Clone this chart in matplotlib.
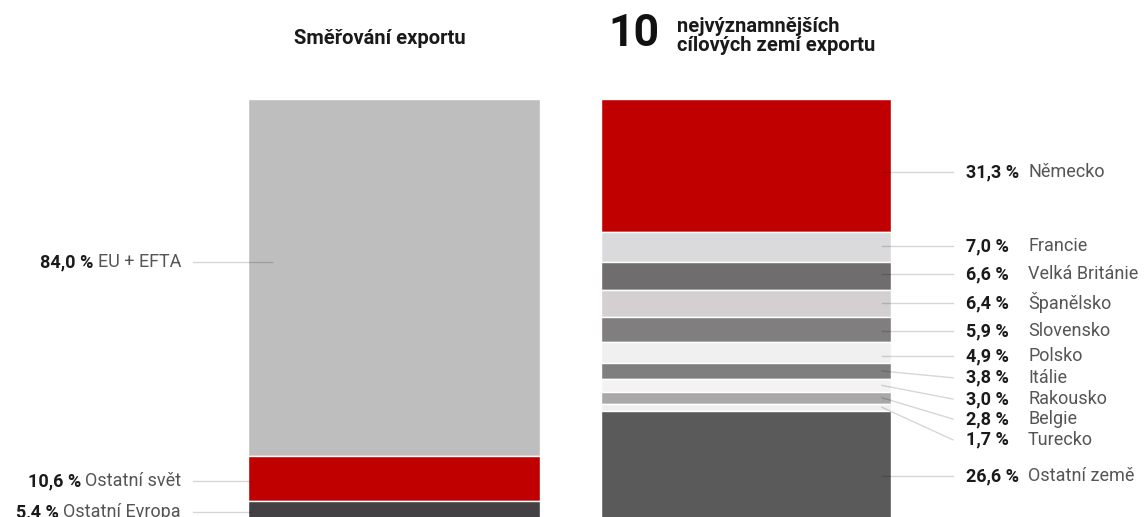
import numpy as np
import matplotlib.pyplot as plt

plt.rcParams['font.family'] = ['Roboto', 'DejaVu Sans']

# směřování exportu (%), shora dolů
smer_nazvy = ['EU + EFTA', 'Ostatní svět', 'Ostatní Evropa']
smer_hodnoty = [84.0, 10.6, 5.4]
smer_barvy = ['#bebebe', '#c00000', '#434143']

# 10 nejvýznamnějších cílových zemí (%), shora dolů
zeme_nazvy = ['Německo', 'Francie', 'Velká Británie', 'Španělsko', 'Slovensko',
              'Polsko', 'Itálie', 'Rakousko', 'Belgie', 'Turecko', 'Ostatní země']
zeme_hodnoty = [31.3, 7.0, 6.6, 6.4, 5.9, 4.9, 3.8, 3.0, 2.8, 1.7, 26.6]
zeme_barvy = ['#c00000', '#dadadc', '#6f6d6e', '#d4d0d1', '#807e7f', '#f0f0f0',
              '#7f7f7f', '#f4f3f3', '#a9a7a8', '#efefef', '#5b5a5b']

# svislé pozice popisků (v % osy)
smer_popisky_y = [61.6, 10.1, 2.8]
zeme_popisky_y = [82.8, 65.4, 58.8, 52.0, 45.4, 39.5, 34.4, 29.4, 24.7, 19.8, 11.3]

W, H = 1144, 517
fig = plt.figure(figsize=(W / 100, H / 100), dpi=100)
fig.patch.set_facecolor('white')

# osa v pixelech vodorovně, v procentech svisle; spodek sloupců je mimo obrázek
y_top, y_bot = 99, 524
ax = fig.add_axes([0, (H - y_bot) / H, 1, (y_bot - y_top) / H])
ax.set_xlim(0, W)
ax.set_ylim(0, 100)
ax.axis('off')


def stack(x, w, hodnoty, barvy):
    hodnoty = np.array(hodnoty)
    spodky = 100 - np.cumsum(hodnoty)
    ax.bar([x] * len(hodnoty), hodnoty, w, bottom=spodky, color=barvy,
           edgecolor='white', linewidth=1.0, zorder=2)
    return spodky, spodky + hodnoty


pct = lambda v: f'{v:.1f}'.replace('.', ',') + ' %'
cara = dict(color=(0, 0, 0, 0.16), lw=1.0, zorder=3)
fs = 13

# levý sloupec
stack(394, 292, smer_hodnoty, smer_barvy)
r = fig.canvas.get_renderer()
for nazev, v, y in zip(smer_nazvy, smer_hodnoty, smer_popisky_y):
    t = ax.text(181, y, nazev, ha='right', va='center', fontsize=fs, color='#555555')
    bb = t.get_window_extent(r)
    x0 = ax.transData.inverted().transform((bb.x0, 0))[0]
    ax.text(x0 - 4, y, pct(v), ha='right', va='center', fontsize=fs,
            fontweight='bold', color='#1a1a1a')
    ax.plot([193, 272 if v > 50 else 251], [y, y], **cara)

# pravý sloupec
spodky, vrchy = stack(746, 290, zeme_hodnoty, zeme_barvy)
for nazev, v, y, s, e in zip(zeme_nazvy, zeme_hodnoty, zeme_popisky_y, spodky, vrchy):
    okraj = 0.25 * (e - s)
    y0 = y if s + okraj <= y <= e - okraj else (s + e) / 2
    ax.plot([882, 953], [y0, y], **cara)
    ax.text(966, y, pct(v), ha='left', va='center', fontsize=fs,
            fontweight='bold', color='#1a1a1a')
    ax.text(1028, y, nazev, ha='left', va='center', fontsize=fs, color='#555555')

# nadpisy
fig.text(380 / W, 1 - 39 / H, 'Směřování exportu', ha='center', va='center',
         fontsize=14.5, fontweight='bold', color='#1a1a1a')
fig.text(608 / W, 1 - 34 / H, '10', ha='left', va='center',
         fontsize=32, fontweight='bold', color='#111111')
fig.text(677 / W, 1 - 36 / H, 'nejvýznamnějších\ncílových zemí exportu', ha='left',
         va='center', fontsize=14.5, fontweight='bold', color='#1a1a1a',
         linespacing=1.0)

fig.savefig('out.png', dpi=100, facecolor='white')
